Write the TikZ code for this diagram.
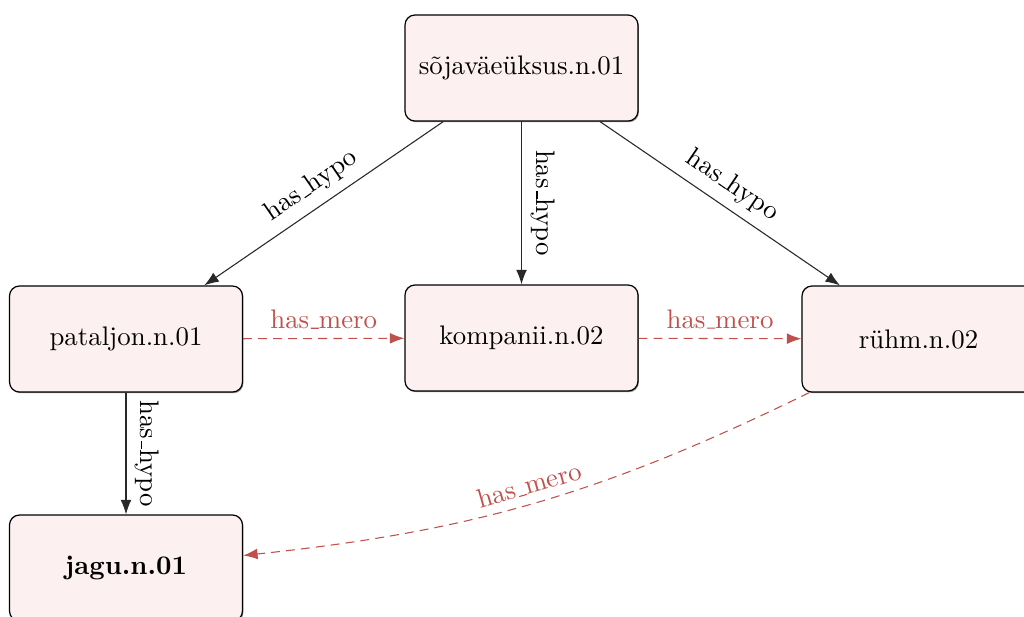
\documentclass[tikz,border=0pt]{standalone}
\usetikzlibrary{arrows.meta,shadows}
\definecolor{boxfill}{RGB}{252,240,240}
\definecolor{merored}{RGB}{192,80,77}
\definecolor{edgegray}{RGB}{40,40,40}
\newcommand{\ulbar}{\kern.06em\vbox{\hrule width.3em}}
\begin{document}
\begin{tikzpicture}[x=0.3726pt,y=-0.3726pt,
  synset/.style={draw=black, fill=boxfill, rounded corners=3.7pt,
    minimum width=86.8pt, minimum height=39.5pt, inner sep=0pt, line width=0.45pt,
    drop shadow={shadow xshift=0.35pt, shadow yshift=-0.45pt, opacity=0.45, fill=black}},
  hypo/.style={draw=edgegray, line width=0.4pt, -{Latex[length=5.4pt,width=4pt]}},
  mero/.style={draw=merored, line width=0.4pt, dash pattern=on 3.3pt off 2.3pt,
    -{Latex[length=5.4pt,width=4pt]}},
  hlbl/.style={sloped, above, text=black},
  mlbl/.style={sloped, above, text=merored}
]
\useasboundingbox (0,0) rectangle (1024,616);
\node[synset] (top) at (521.5,68) {sõjaväeüksus.n.01};
\node[synset] (pat) at (126,339) {pataljon.n.01};
\node[synset] (kom) at (521.5,338) {kompanii.n.02};
\node[synset] (ruh) at (918.5,339) {rühm.n.02};
\node[synset] (jag) at (126,568) {\textbf{jagu.n.01}};

\draw[hypo] (top) -- node[hlbl] {has\ulbar hypo} (pat);
\draw[hypo] (top) -- node[hlbl] {has\ulbar hypo} (kom);
\draw[hypo] (top) -- node[hlbl] {has\ulbar hypo} (ruh);
\draw[hypo] (pat) -- node[hlbl] {has\ulbar hypo} (jag);
\draw[mero] (pat) -- node[mlbl] {has\ulbar mero} (kom);
\draw[mero] (kom) -- node[mlbl] {has\ulbar mero} (ruh);
\draw[mero] (ruh) to[bend left=10] node[mlbl] {has\ulbar mero} (jag);
\end{tikzpicture}
\end{document}
